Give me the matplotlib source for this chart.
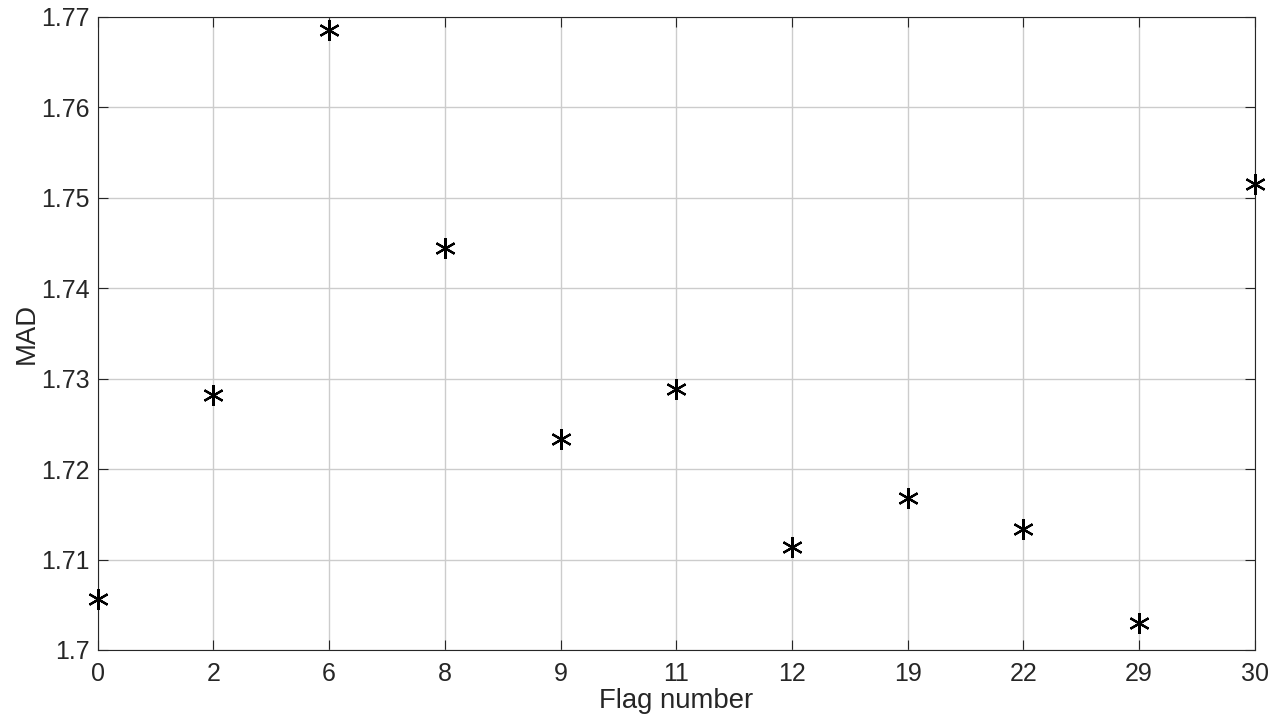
import matplotlib
matplotlib.use("Agg")
import matplotlib.pyplot as plt
import numpy as np

flag_labels = ["0", "2", "6", "8", "9", "11", "12", "19", "22", "29", "30"]
mad_values = [1.70563, 1.72815, 1.76858, 1.74442, 1.72329, 1.72881,
              1.71136, 1.71679, 1.71341, 1.70297, 1.75148]
y_ticks = [1.70, 1.71, 1.72, 1.73, 1.74, 1.75, 1.76, 1.77]
y_tick_labels = ["1.7", "1.71", "1.72", "1.73", "1.74", "1.75", "1.76", "1.77"]

plt.rcParams['font.family'] = ['Liberation Sans', 'DejaVu Sans']

fig = plt.figure(figsize=(12.7, 7.23), dpi=100)
ax = fig.add_axes([0.077, 0.101, 0.911, 0.8755])

x = np.arange(len(flag_labels))
ax.plot(x, mad_values, linestyle='none', marker=(6, 2, 0), markersize=15,
        markeredgewidth=1.6, color='black', clip_on=False, zorder=5)

ax.set_xlim(0, len(flag_labels) - 1)
ax.set_ylim(1.70, 1.77)
ax.set_xticks(x)
ax.set_xticklabels(flag_labels)
ax.set_yticks(y_ticks)
ax.set_yticklabels(y_tick_labels)

ax.grid(True, color='#cccccc', linewidth=1.0)
ax.set_axisbelow(True)
ax.tick_params(axis='both', direction='in', length=7.5, width=0.8,
               colors='#262626', labelsize=18, top=True, right=True)
ax.tick_params(axis='x', pad=9)
ax.tick_params(axis='y', pad=6)
for s in ax.spines.values():
    s.set_color('#262626')
    s.set_linewidth(0.8)

ax.set_xlabel("Flag number", fontsize=19.8, color='#262626', labelpad=1)
ax.set_ylabel("MAD", fontsize=19.8, color='#262626', labelpad=1)

fig.savefig("out.png", dpi=100)
